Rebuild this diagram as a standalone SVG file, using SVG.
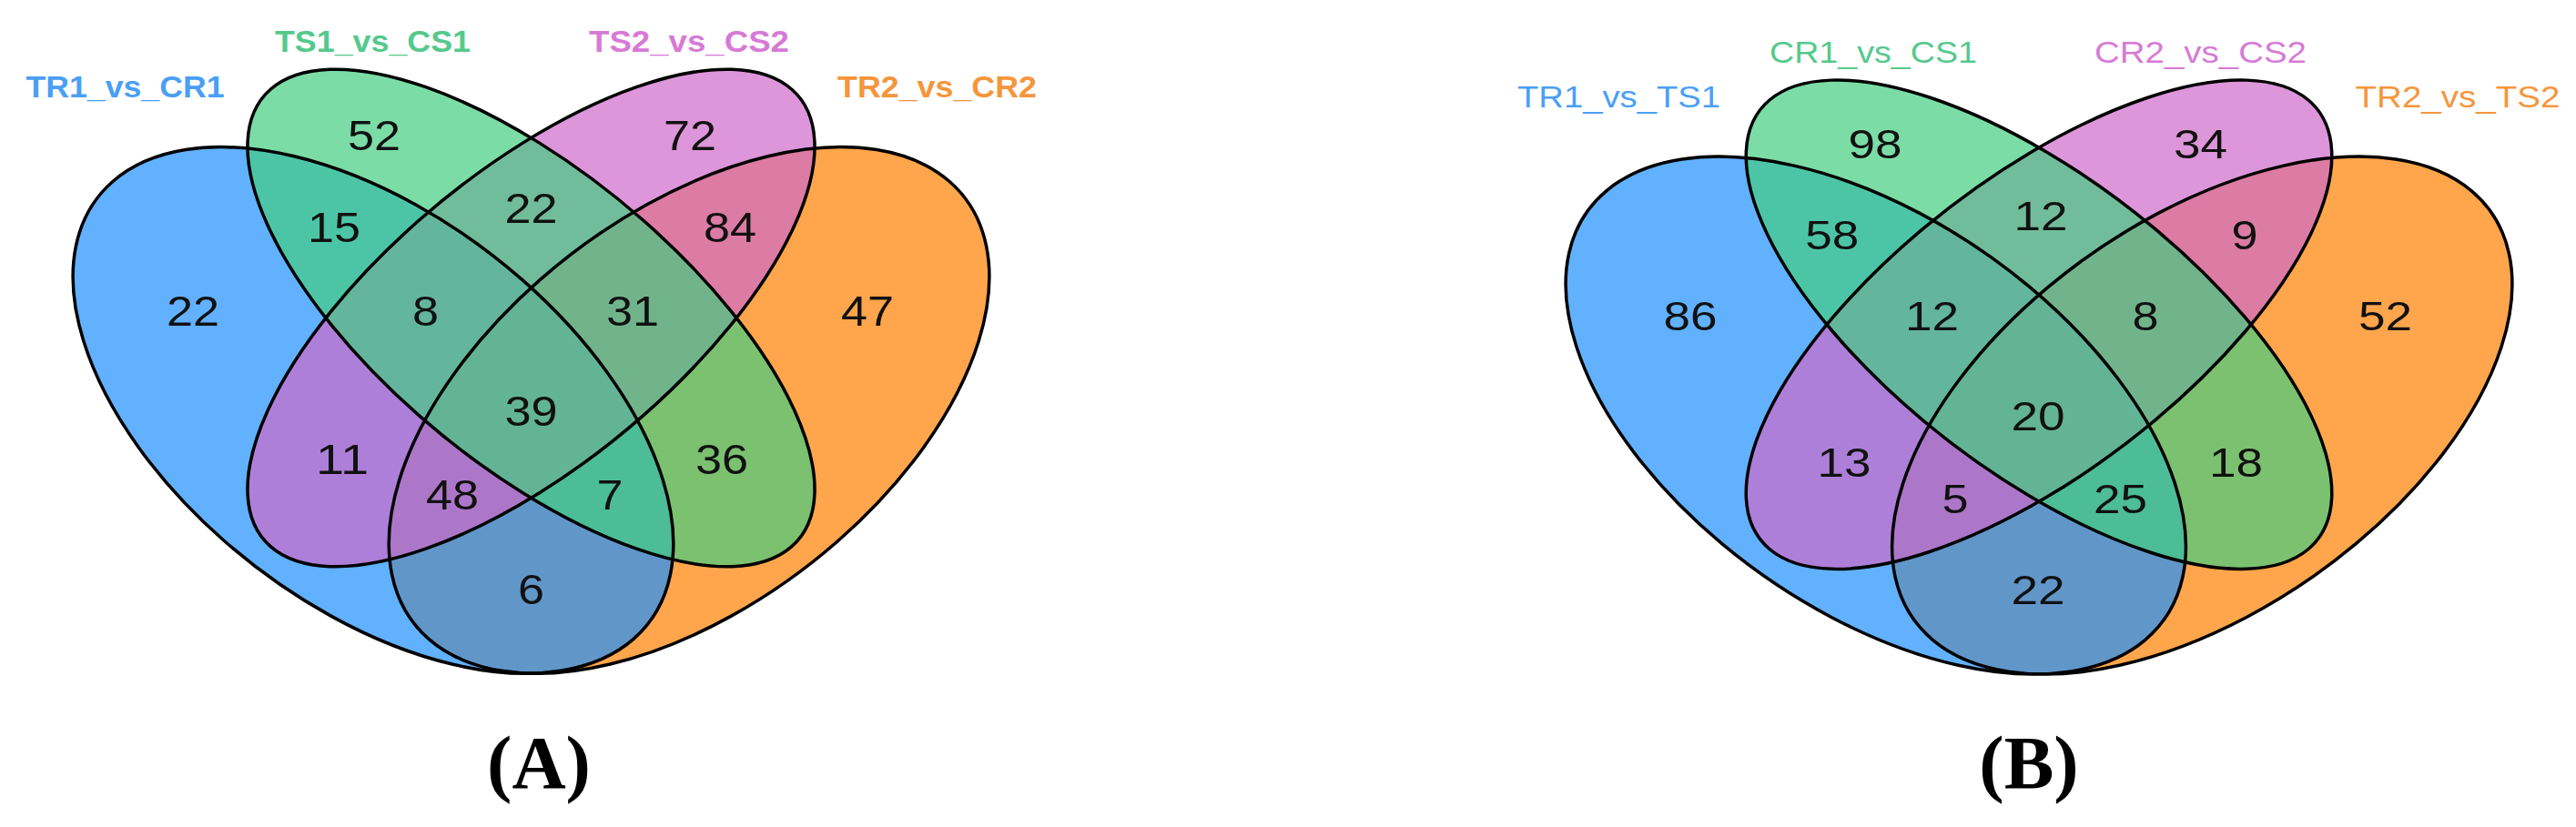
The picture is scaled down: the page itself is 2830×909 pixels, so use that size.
<svg xmlns="http://www.w3.org/2000/svg" width="2830" height="909" viewBox="0 0 2830 909">
<style>
.e{stroke:none;fill-opacity:0.7}
.b{fill:#1E90FF}.g{fill:#43CD80}.p{fill:#CD69C9}.o{fill:#FF7F00}
.ol{fill:none;stroke:#000;stroke-width:3.5;vector-effect:non-scaling-stroke}
.n{font-family:"Liberation Sans",Arial,sans-serif;fill:#111;text-anchor:middle}
.na{font-size:46px}.nb{font-size:45px}
.c{font-family:"Liberation Sans",Arial,sans-serif;font-size:34px;text-anchor:middle}
.ca{font-weight:bold}
.cb{font-weight:normal}
.tb{fill:#4A9FF5}.tg{fill:#55C98C}.tp{fill:#D77AD6}.to{fill:#F5963C}
.pl{font-family:"Liberation Serif","Times New Roman",serif;font-weight:bold;font-size:82px;text-anchor:middle;fill:#000}
</style>
<defs>
<g id="fills">
<ellipse class="e o" cx="0.65" cy="0.47" rx="0.35" ry="0.2" transform="rotate(45 0.65 0.47)"/>
<ellipse class="e b" cx="0.35" cy="0.47" rx="0.35" ry="0.2" transform="rotate(135 0.35 0.47)"/>
<ellipse class="e p" cx="0.5" cy="0.57" rx="0.35" ry="0.15" transform="rotate(45 0.5 0.57)"/>
<ellipse class="e g" cx="0.5" cy="0.57" rx="0.35" ry="0.15" transform="rotate(135 0.5 0.57)"/>
</g>
<g id="lines">
<ellipse class="ol" cx="0.65" cy="0.47" rx="0.35" ry="0.2" transform="rotate(45 0.65 0.47)"/>
<ellipse class="ol" cx="0.35" cy="0.47" rx="0.35" ry="0.2" transform="rotate(135 0.35 0.47)"/>
<ellipse class="ol" cx="0.5" cy="0.57" rx="0.35" ry="0.15" transform="rotate(45 0.5 0.57)"/>
<ellipse class="ol" cx="0.5" cy="0.57" rx="0.35" ry="0.15" transform="rotate(135 0.5 0.57)"/>
</g>
</defs>
<rect width="2830" height="909" fill="#fff"/>

<g id="venn-A">
<g id="A-sets" transform="matrix(1157 0 0 -1015 5 928)">
<use href="#fills"/>
<use href="#lines"/>
</g>
<g id="A-categories">
<text class="c ca tb" x="137.5" y="107" textLength="218" lengthAdjust="spacingAndGlyphs">TR1_vs_CR1</text>
<text class="c ca tg" x="409.5" y="57" textLength="215" lengthAdjust="spacingAndGlyphs">TS1_vs_CS1</text>
<text class="c ca tp" x="757" y="57" textLength="220" lengthAdjust="spacingAndGlyphs">TS2_vs_CS2</text>
<text class="c ca to" x="1029.5" y="107" textLength="219" lengthAdjust="spacingAndGlyphs">TR2_vs_CR2</text>
</g>
<g id="A-counts" class="n na">
<text x="411" y="164.5" textLength="58" lengthAdjust="spacingAndGlyphs">52</text>
<text x="758" y="164.5" textLength="58" lengthAdjust="spacingAndGlyphs">72</text>
<text x="367" y="265.5" textLength="58" lengthAdjust="spacingAndGlyphs">15</text>
<text x="583.5" y="245" textLength="58" lengthAdjust="spacingAndGlyphs">22</text>
<text x="802" y="265.5" textLength="58" lengthAdjust="spacingAndGlyphs">84</text>
<text x="212" y="357.5" textLength="58" lengthAdjust="spacingAndGlyphs">22</text>
<text x="467.5" y="357.5" textLength="29" lengthAdjust="spacingAndGlyphs">8</text>
<text x="695" y="357.5" textLength="58" lengthAdjust="spacingAndGlyphs">31</text>
<text x="953" y="357.5" textLength="58" lengthAdjust="spacingAndGlyphs">47</text>
<text x="583.5" y="468" textLength="58" lengthAdjust="spacingAndGlyphs">39</text>
<text x="376" y="520.5" textLength="58" lengthAdjust="spacingAndGlyphs">11</text>
<text x="793" y="520.5" textLength="58" lengthAdjust="spacingAndGlyphs">36</text>
<text x="497" y="559.5" textLength="58" lengthAdjust="spacingAndGlyphs">48</text>
<text x="670" y="559.5" textLength="29" lengthAdjust="spacingAndGlyphs">7</text>
<text x="583.5" y="663.5" textLength="29" lengthAdjust="spacingAndGlyphs">6</text>
</g>
<text id="A-caption" class="pl" x="592" y="866">(A)</text>
</g>

<g id="venn-B">
<g id="B-sets" transform="matrix(1195 0 0 -998 1642.5 925.6)">
<use href="#fills"/>
<use href="#lines"/>
</g>
<g id="B-categories">
<text class="c cb tb" x="1778.5" y="118" textLength="223" lengthAdjust="spacingAndGlyphs">TR1_vs_TS1</text>
<text class="c cb tg" x="2058" y="69" textLength="228" lengthAdjust="spacingAndGlyphs">CR1_vs_CS1</text>
<text class="c cb tp" x="2417.5" y="69" textLength="233" lengthAdjust="spacingAndGlyphs">CR2_vs_CS2</text>
<text class="c cb to" x="2700" y="118" textLength="225" lengthAdjust="spacingAndGlyphs">TR2_vs_TS2</text>
</g>
<g id="B-counts" class="n nb">
<text x="2060" y="174" textLength="59" lengthAdjust="spacingAndGlyphs">98</text>
<text x="2417.5" y="174" textLength="59" lengthAdjust="spacingAndGlyphs">34</text>
<text x="2012.7" y="274" textLength="59" lengthAdjust="spacingAndGlyphs">58</text>
<text x="2242" y="253" textLength="59" lengthAdjust="spacingAndGlyphs">12</text>
<text x="2466" y="274" textLength="29" lengthAdjust="spacingAndGlyphs">9</text>
<text x="1857" y="363" textLength="59" lengthAdjust="spacingAndGlyphs">86</text>
<text x="2122.5" y="363" textLength="59" lengthAdjust="spacingAndGlyphs">12</text>
<text x="2357" y="363" textLength="29" lengthAdjust="spacingAndGlyphs">8</text>
<text x="2620.6" y="363" textLength="59" lengthAdjust="spacingAndGlyphs">52</text>
<text x="2239" y="473" textLength="59" lengthAdjust="spacingAndGlyphs">20</text>
<text x="2026" y="524" textLength="59" lengthAdjust="spacingAndGlyphs">13</text>
<text x="2456.6" y="524" textLength="59" lengthAdjust="spacingAndGlyphs">18</text>
<text x="2148" y="563.5" textLength="29" lengthAdjust="spacingAndGlyphs">5</text>
<text x="2329.5" y="563.5" textLength="59" lengthAdjust="spacingAndGlyphs">25</text>
<text x="2239" y="664" textLength="59" lengthAdjust="spacingAndGlyphs">22</text>
</g>
<text id="B-caption" class="pl" x="2229" y="866">(B)</text>
</g>
</svg>
